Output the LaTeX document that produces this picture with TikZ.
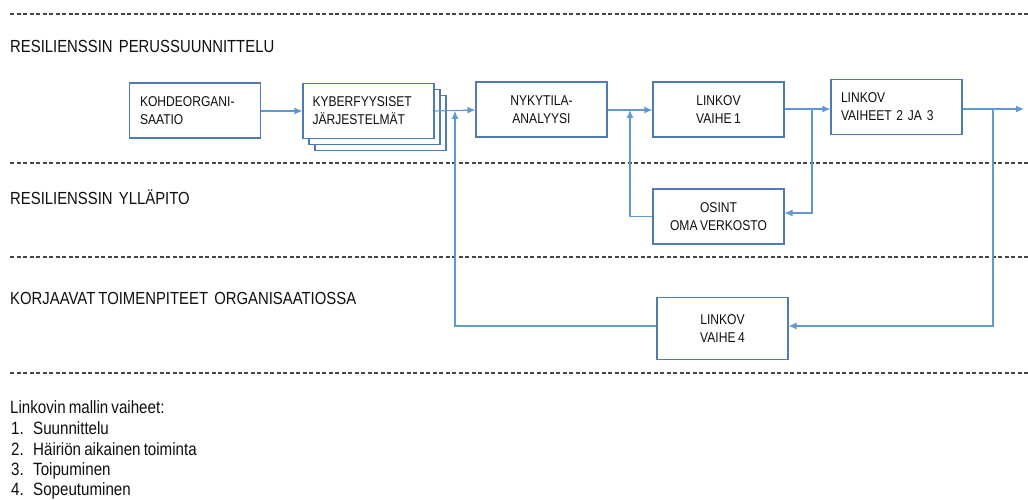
\documentclass[tikz,border=0pt]{standalone}
\usepackage{fontspec}
\setmainfont{Liberation Sans}[FakeStretch=0.85,WordSpace=0.75]
\usetikzlibrary{arrows.meta}
\definecolor{boxc}{RGB}{79,122,178}
\definecolor{arrc}{RGB}{98,152,208}
\definecolor{txtc}{RGB}{15,15,15}
\definecolor{dashc}{RGB}{70,70,70}
\tikzset{
  box/.style={draw=boxc, line width=1.1pt, fill=white, minimum width=131pt, minimum height=55pt, inner sep=0pt, text=txtc, font=\fontsize{14.2}{18}\selectfont},
  conn/.style={draw=arrc, line width=1.1pt},
  arr/.style={conn, -{Latex[length=8pt,width=7pt]}},
  sep/.style={draw=dashc, line width=1.2pt, dash pattern=on 4pt off 2.5pt},
  head/.style={anchor=base west, inner sep=0pt, text=txtc, font=\fontsize{17.5}{20}\selectfont},
  leg/.style={anchor=base west, inner sep=0pt, text=txtc, font=\fontsize{17.8}{20}\selectfont}
}
\begin{document}
\begin{tikzpicture}[x=1pt,y=-1pt]
\useasboundingbox (0,0) rectangle (1028,500);
% separators
\coordinate (s1a) at (10,14); \coordinate (s1b) at (1028,14);
\coordinate (s2a) at (10,163); \coordinate (s2b) at (1028,163);
\coordinate (s3a) at (10,257); \coordinate (s3b) at (1028,257);
\coordinate (s4a) at (10,373); \coordinate (s4b) at (1028,373);
\draw[sep] (s1a) -- (s1b);
\draw[sep] (s2a) -- (s2b);
\draw[sep] (s3a) -- (s3b);
\draw[sep] (s4a) -- (s4b);
% headings
\node[head] (h1) at (10,52.5) {RESILIENSSIN\ \ PERUSSUUNNITTELU};
\node[head] (h2) at (10,204.5) {RESILIENSSIN\ \ YLLÄPITO};
\node[head] (h3) at (10,304.5) {KORJAAVAT TOIMENPITEET\ \ ORGANISAATIOSSA};
% boxes
\node[box, text width=110pt, align=left] (kohde) at (195,110.5) {KOHDEORGANI-\\SAATIO};
\node[box] (kyb3) at (380.5,123) {};
\node[box] (kyb2) at (374.5,117) {};
\node[box, text width=112pt, align=left] (kyber) at (368.5,111) {KYBERFYYSISET\\JÄRJESTELMÄT};
\node[box, align=center] (nyky) at (541.5,109.5) {NYKYTILA-\\ANALYYSI};
\node[box, align=center] (l1) at (718.5,109.5) {LINKOV\\VAIHE 1};
\node[box, text width=111pt, align=left] (l23) at (896.5,107) {LINKOV\\VAIHEET 2 JA 3};
\node[box, align=center] (osint) at (718.5,216.5) {OSINT\\OMA VERKOSTO};
\node[box, minimum height=62pt, align=center] (l4) at (722.5,328.5) {LINKOV\\VAIHE 4};
% junction coordinates
\coordinate (j1) at (455,111);
\coordinate (j1b) at (455,326);
\coordinate (j2) at (630,110);
\coordinate (j2b) at (630,216.5);
\coordinate (j3) at (812,109);
\coordinate (j3b) at (812,213);
\coordinate (j4) at (993,109);
\coordinate (j4b) at (993,326);
\coordinate (out) at (1024,109);
% connectors
\draw[arr] (kohde.east |- 0,111) -- (kyber.west |- 0,111);
\draw[arr] (kyber.east |- 0,111) -- (nyky.west |- 0,110);
\draw[arr] (nyky.east |- 0,110) -- (l1.west |- 0,110);
\draw[arr] (l1.east |- 0,109) -- (l23.west |- 0,109);
\draw[arr] (l23.east |- 0,109) -- (out);
\draw[arr] (j3) -- (j3b) -- (osint.east |- j3b);
\draw[arr] (osint.west |- j2b) -- (j2b) -- (j2);
\draw[arr] (j4) -- (j4b) -- (l4.east |- j4b);
\draw[arr] (l4.west |- j1b) -- (j1b) -- (j1);
% legend
\node[leg] (lt) at (10,413) {Linkovin mallin vaiheet:};
\node[leg] (n1) at (11,434) {1.};
\node[leg] (t1) at (33,434) {Suunnittelu};
\node[leg] (n2) at (11,455) {2.};
\node[leg] (t2) at (33,455) {Häiriön aikainen toiminta};
\node[leg] (n3) at (11,475.5) {3.};
\node[leg] (t3) at (33,475.5) {Toipuminen};
\node[leg] (n4) at (11,495.5) {4.};
\node[leg] (t4) at (33,495.5) {Sopeutuminen};
\end{tikzpicture}
\end{document}
